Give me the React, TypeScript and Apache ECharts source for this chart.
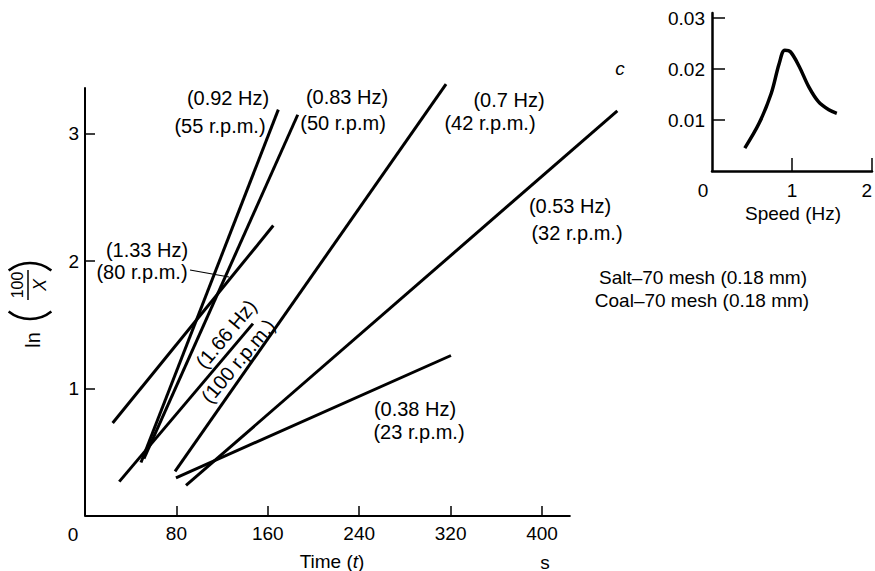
import { useEffect, useRef } from "react";
import * as echarts from "echarts";

// ---- data ----
const xTickValues = [80, 160, 240, 320, 400];
const yTickValues = [1, 2, 3];
const xAxisEnd = 425; // where the drawn time axis stops

// straight-line fits for each stirring speed: [time, ln(100/X)]
const run133Hz = [[24.2, 0.73], [164.8, 2.28]];
const run166Hz = [[30.0, 0.27], [147.0, 1.51]];
const run092Hz = [[49.0, 0.42], [169.2, 3.19]];
const run083Hz = [[51.6, 0.45], [186.2, 3.15]];
const run070Hz = [[78.8, 0.35], [316.0, 3.39]];
const run053Hz = [[88.4, 0.24], [465.9, 3.18]];
const run038Hz = [[79.6, 0.3], [320.3, 1.26]];

// inset: mixing index c vs speed
const speedHz = [0.41, 0.59, 0.74, 0.84, 0.91, 0.98, 1.09, 1.21, 1.33, 1.46, 1.56];
const cValues = [0.0045, 0.0094, 0.0152, 0.0211, 0.0237, 0.0234, 0.0205, 0.0165, 0.0136, 0.012, 0.0113];
const insetXTicks = [1, 2];
const insetYTicks = [0.01, 0.02, 0.03];

const FONT = "'Liberation Sans', Arial, Helvetica, sans-serif";

export default function App() {
  const ref = useRef<HTMLDivElement>(null);

  useEffect(() => {
    if (!ref.current) return;
    const chart = echarts.init(ref.current, undefined, { renderer: "svg" });

    const lineSeries = (data: number[][], width = 3) => ({
      type: "line",
      xAxisIndex: 0,
      yAxisIndex: 0,
      data,
      showSymbol: false,
      symbol: "none",
      clip: false,
      lineStyle: { color: "#000", width },
      silent: true,
    });

    const txt = (text: string, x: number, y: number, extra: any = {}) => ({
      type: "text",
      x,
      y,
      silent: true,
      ...extra,
      style: {
        text,
        fill: "#000",
        fontSize: 19,
        fontFamily: FONT,
        align: "center",
        verticalAlign: "middle",
        textAlign: "center",
        textVerticalAlign: "middle",
        ...(extra.style || {}),
      },
    });
    const lab = (text: string, x: number, y: number, extra: any = {}) =>
      txt(text, x, y, { ...extra, style: { fontSize: 20, ...(extra.style || {}) } });

    const ra = 34;
    const ha = 0.68;

    const option: any = {
      animation: false,
      backgroundColor: "#fff",
      grid: [
        { left: 85, top: 88, right: 253, bottom: 55 },
        { left: 712, top: 13, right: 1, bottom: 400 },
      ],
      xAxis: [
        {
          type: "value",
          gridIndex: 0,
          min: 0,
          max: 470,
          interval: 10,
          axisLine: { show: false },
          splitLine: { show: false },
          axisTick: { show: true, inside: true, length: 10, customValues: xTickValues, lineStyle: { color: "#000", width: 1.5 } },
          axisLabel: { color: "#000", fontSize: 19, fontFamily: FONT, margin: 8, customValues: xTickValues },
        },
        {
          type: "value",
          gridIndex: 1,
          min: 0,
          max: 2,
          interval: 1,
          splitLine: { show: false },
          axisLine: { show: true, onZero: false, lineStyle: { color: "#000", width: 2.5 } },
          axisTick: { show: true, inside: true, length: 13, customValues: insetXTicks, lineStyle: { color: "#000", width: 1.5 } },
          axisLabel: { color: "#000", fontSize: 19, fontFamily: FONT, margin: 10, customValues: insetXTicks, alignMaxLabel: "right" },
        },
      ],
      yAxis: [
        {
          type: "value",
          gridIndex: 0,
          min: 0,
          max: 3.36,
          interval: 1,
          splitLine: { show: false },
          axisLine: { show: true, onZero: false, lineStyle: { color: "#000", width: 2 } },
          axisTick: { show: true, inside: true, length: 10, customValues: yTickValues, lineStyle: { color: "#000", width: 1.5 } },
          axisLabel: { color: "#000", fontSize: 19, fontFamily: FONT, margin: 6, customValues: yTickValues },
        },
        {
          type: "value",
          gridIndex: 1,
          min: 0,
          max: 0.031,
          interval: 0.01,
          splitLine: { show: false },
          axisLine: { show: true, onZero: false, lineStyle: { color: "#000", width: 2.5 } },
          axisTick: { show: true, inside: true, length: 13, customValues: insetYTicks, lineStyle: { color: "#000", width: 1.5 } },
          axisLabel: {
            color: "#000",
            fontSize: 19,
            fontFamily: FONT,
            margin: 7,
            customValues: insetYTicks,
            formatter: (v: number) => v.toFixed(2),
          },
        },
      ],
      series: [
        // time axis line (stops at 425 s while the 0.53 Hz line runs past it)
        lineSeries([[0, 0], [xAxisEnd, 0]], 2),
        lineSeries(run133Hz),
        lineSeries(run166Hz),
        lineSeries(run092Hz),
        lineSeries(run083Hz),
        lineSeries(run070Hz),
        lineSeries(run053Hz),
        lineSeries(run038Hz),
        {
          type: "line",
          xAxisIndex: 1,
          yAxisIndex: 1,
          data: speedHz.map((s, i) => [s, cValues[i]]),
          smooth: 0.35,
          showSymbol: false,
          symbol: "none",
          lineStyle: { color: "#000", width: 3.5 },
          silent: true,
        },
      ],
      graphic: [
        // corner zeros
        txt("0", 73, 534),
        txt("0", 703, 190),
        // axis titles
        txt("Time ({i|t})", 332, 561, {
          style: { rich: { i: { fontStyle: "italic", fontSize: 19, fontFamily: FONT, fill: "#000" } } },
        }),
        txt("s", 545, 562),
        txt("Speed (Hz)", 793, 213),
        txt("c", 620, 68, { style: { fontStyle: "italic" } }),
        // y-axis title ln(100/X), rotated
        {
          type: "group",
          x: 29,
          y: 305,
          rotation: Math.PI / 2,
          silent: true,
          children: [
            txt("ln", -35, 4, { style: { fontSize: 20 } }),
            {
              type: "arc",
              shape: { cx: -14 + ra, cy: 1, r: ra, startAngle: Math.PI - ha, endAngle: Math.PI + ha, clockwise: true },
              style: { stroke: "#000", lineWidth: 2.5, fill: "none" },
            },
            txt("100", 20, -12, { style: { fontSize: 16 } }),
            {
              type: "line",
              shape: { x1: 5, y1: -1, x2: 35, y2: -1 },
              style: { stroke: "#000", lineWidth: 1.5 },
            },
            txt("X", 20, 11, { style: { fontSize: 18, fontStyle: "italic" } }),
            {
              type: "arc",
              shape: { cx: 42 - ra, cy: 1, r: ra, startAngle: -ha, endAngle: ha, clockwise: true },
              style: { stroke: "#000", lineWidth: 2.5, fill: "none" },
            },
          ],
        },
        // run labels
        lab("(0.92 Hz)", 228, 98),
        lab("(55 r.p.m.)", 220, 126),
        lab("(0.83 Hz)", 347, 97),
        lab("(50 r.p.m)", 343, 123),
        lab("(0.7 Hz)", 509, 100),
        lab("(42 r.p.m.)", 490, 123),
        lab("(0.53 Hz)", 570, 206),
        lab("(32 r.p.m.)", 577, 233),
        lab("(1.33 Hz)", 147, 250),
        lab("(80 r.p.m.)", 142, 272),
        lab("(0.38 Hz)", 415, 409),
        lab("(23 r.p.m.)", 419, 432),
        lab("(1.66 Hz)", 226, 334, { rotation: (50 * Math.PI) / 180 }),
        lab("(100 r.p.m.)", 238, 361, { rotation: (50 * Math.PI) / 180 }),
        {
          type: "line",
          silent: true,
          shape: { x1: 190, y1: 270, x2: 229, y2: 277 },
          style: { stroke: "#000", lineWidth: 1.2 },
        },
        txt("Salt\u201370 mesh (0.18 mm)", 703, 277),
        txt("Coal\u201370 mesh (0.18 mm)", 702, 300),
      ],
    };

    chart.setOption(option);
    return () => chart.dispose();
  }, []);

  return (
    <div
      ref={ref}
      style={{ position: "fixed", left: 0, top: 0, width: 875, height: 571, background: "#fff" }}
    />
  );
}
